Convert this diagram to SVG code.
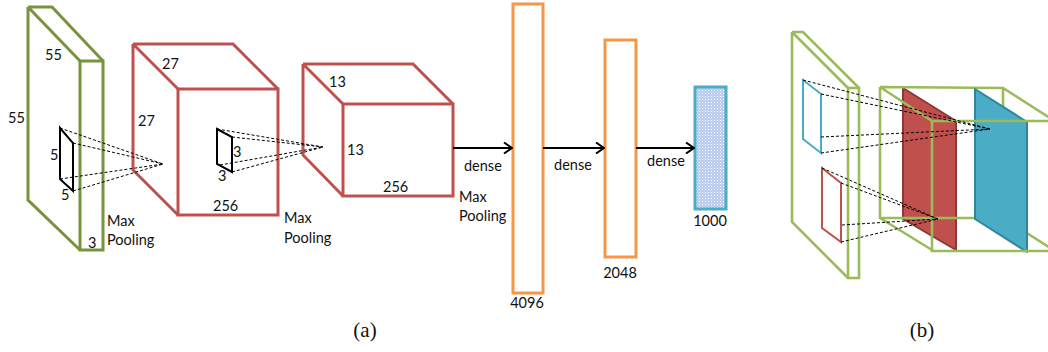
<svg xmlns="http://www.w3.org/2000/svg" width="1048" height="352" viewBox="0 0 1048 352">
<style>
text{font-family:Lato,"Liberation Sans",sans-serif;font-size:14.5px;fill:#111}
.cap{font-family:"Liberation Serif","DejaVu Serif",serif;font-size:21px;fill:#111}
.g1{fill:none;stroke:#77933c;stroke-width:3;stroke-linejoin:miter}
.g2{fill:none;stroke:#9bbb59;stroke-width:2.6}
.red{fill:none;stroke:#c0504d;stroke-width:3}
.org{fill:none;stroke:#f79646;stroke-width:3}
.ker{fill:none;stroke:#000;stroke-width:2}
.dash{fill:none;stroke:#000;stroke-width:1;stroke-dasharray:3 2}
.arr{fill:none;stroke:#000;stroke-width:2}
.mid{text-anchor:middle}
</style>
<defs>
<pattern id="dots" width="3" height="3" patternUnits="userSpaceOnUse">
<rect width="3" height="3" fill="#b6cbee"/>
<rect width="1" height="1" fill="#ffffff"/>
<rect x="1.5" y="1.5" width="1" height="1" fill="#dfe8f7"/>
</pattern>
<marker id="ah" viewBox="0 0 10 12" refX="9" refY="6" markerWidth="10" markerHeight="12" markerUnits="userSpaceOnUse" orient="auto">
<path d="M1,0.5 L9,6 L1,11.5" fill="none" stroke="#000" stroke-width="2"/>
</marker>
</defs>

<!-- (a) input slab -->
<g id="input">
<path class="g1" d="M28,7 L52,7 L103,61 M28,7 L80,61 M28,7 L28,200 L80,250"/>
<rect class="g1" x="80" y="61" width="23" height="189"/>
<path class="ker" d="M60,128 L73,143 L73,191 L60,179 Z"/>
<text x="45" y="60">55</text>
<text x="8" y="123">55</text>
<text x="50" y="160">5</text>
<text x="61" y="200">5</text>
<text x="88" y="248">3</text>
<text x="107" y="226">Max</text>
<text x="107" y="245">Pooling</text>
</g>

<!-- (a) conv2 cube -->
<g id="conv1">
<path class="red" d="M133,44 L233,44 L278,89 M133,44 L178,89 M133,44 L133,170 L178,215"/>
<rect class="red" x="178" y="89" width="100" height="126"/>
<path class="ker" d="M217,129 L232,137 L232,172 L217,164 Z"/>
<text x="162" y="69">27</text>
<text x="138" y="126">27</text>
<text x="233" y="157">3</text>
<text x="218" y="181">3</text>
<text x="213" y="211">256</text>
<text x="284" y="223">Max</text>
<text x="284" y="243">Pooling</text>
</g>

<!-- (a) conv3 cube -->
<g id="conv2">
<path class="red" d="M303,64 L413,64 L453,104 M303,64 L343,104 M303,64 L303,155 L343,196"/>
<rect class="red" x="343" y="104" width="110" height="92"/>
<text x="329" y="87">13</text>
<text x="347" y="155">13</text>
<text x="383" y="192">256</text>
<text x="459" y="202">Max</text>
<text x="459" y="221">Pooling</text>
</g>

<g id="fc1">
<rect class="org" x="513" y="4" width="30" height="289"/>
<text class="mid" x="527" y="308">4096</text>
</g>
<g id="fc2">
<rect class="org" x="605" y="40" width="31" height="217"/>
<text class="mid" x="620" y="278">2048</text>
</g>
<g id="out">
<rect x="695" y="87" width="31" height="122" fill="url(#dots)" stroke="#4bacc6" stroke-width="3"/>
<text class="mid" x="710" y="226">1000</text>
</g>

<g id="connectors">
<path class="dash" d="M60,128 L163,164 M73,143 L163,164 M60,179 L163,164 M73,191 L163,164"/>
<path class="dash" d="M217,129 L323,147 M232,137 L323,147 M220,165 L323,147 M232,172 L323,147"/>
<line class="arr" x1="453" y1="148" x2="512" y2="148" marker-end="url(#ah)"/>
<line class="arr" x1="543" y1="148" x2="604" y2="148" marker-end="url(#ah)"/>
<line class="arr" x1="636" y1="148" x2="694" y2="148" marker-end="url(#ah)"/>
<text x="464" y="171">dense</text>
<text class="mid" x="573" y="170">dense</text>
<text class="mid" x="666" y="166">dense</text>
</g>

<!-- (b) -->
<g id="b-input">
<path class="g2" d="M792,32 L803,32 L859,88 M792,32 L848,88 M792,32 L792,222 L848,278"/>
<rect class="g2" x="848" y="88" width="11" height="190"/>
<path fill="none" stroke="#4bacc6" stroke-width="2" d="M803,80 L821,94 L821,153 L803,139 Z"/>
<path fill="none" stroke="#c0504d" stroke-width="2" d="M822,168 L841,183 L841,242 L822,228 Z"/>
</g>
<g id="b-volume">
<path d="M903,88 L956,121 L956,250 L903,219 Z" fill="#c0504d" stroke="#8c3836" stroke-width="2" stroke-linejoin="round"/>
<path class="g2" d="M880,87 L1003,88 L1003,122 M880,87 L880,218 L975,218 M880,87 L932,121 M1003,88 L1050,118 M880,218 L932,250 M1003,218 L1055,251"/>
<path d="M975,89 L1027,122 L1027,252 L975,219 Z" fill="#4bacc6" stroke="#31859c" stroke-width="2" stroke-linejoin="round"/>
<path class="g2" d="M1050,121 L932,121 L932,251 L1050,251"/>
</g>
<g id="b-connectors">
<path class="dash" d="M803,80 L990,129 M821,94 L990,129 M821,137 L990,129 M821,153 L990,129"/>
<path class="dash" d="M822,168 L938,219 M841,183 L938,219 M842,225 L938,219 M841,242 L938,219"/>
</g>

<text class="cap mid" x="365" y="337">(a)</text>
<text class="cap mid" x="922" y="337">(b)</text>
</svg>
